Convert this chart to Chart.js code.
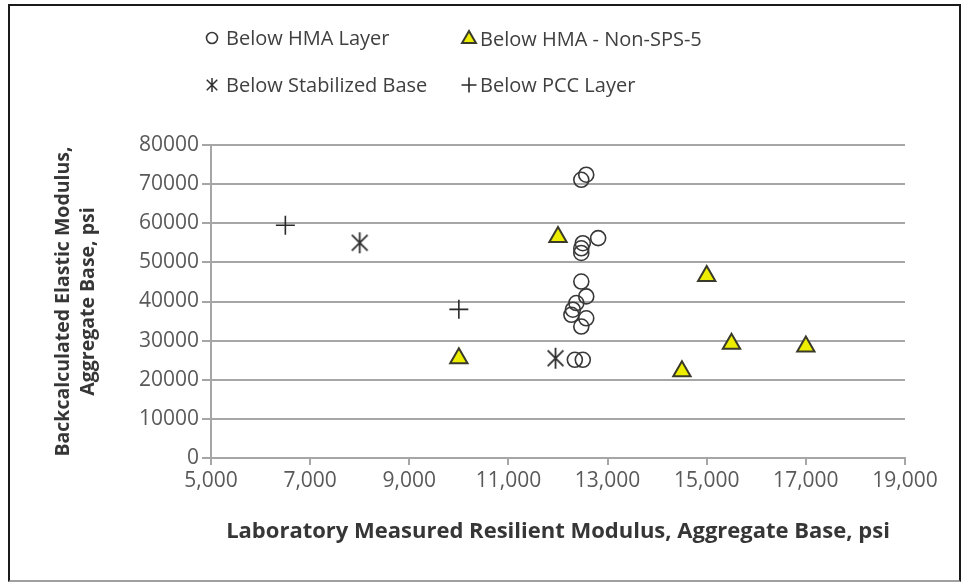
<!DOCTYPE html>
<html>
<head>
<meta charset="utf-8">
<script src="https://cdn.jsdelivr.net/npm/chart.js@4.4.1/dist/chart.umd.min.js"></script>
<style>
    html, body { margin: 0; padding: 0; background: #fff; }
    #wrap { position: relative; width: 963px; height: 583px; overflow: hidden; }
    #frame {
        position: absolute; left: 8px; top: 4px; width: 953px; height: 578px; box-sizing: border-box;
        border-left: 2px solid #1a1a1a; border-top: 2px solid #1a1a1a;
        border-right: 2px solid #1a1a1a; border-bottom: 2px solid #a0a0a0;
    }
    #chart { position: absolute; left: 0; top: 0; }
    .legend-item { position: absolute; font: 20px 'Open Sans', sans-serif; color: #404040; white-space: nowrap; line-height: 26px; }
    .legend-item canvas { position: absolute; }
</style>
</head>
<body>
<div id="wrap">
    <div id="frame"></div>
    <canvas id="chart" width="963" height="583"></canvas>
    <div id="legend"></div>
</div>
<script>
// Laboratory resilient modulus (x) vs backcalculated modulus (y), psi
const hmaX = [12470, 12570, 12810, 12500, 12470, 12470, 12470, 12570, 12370, 12300, 12270, 12570, 12470, 12340, 12500];
const hmaY = [71100, 72400, 56200, 54900, 53600, 52400, 45100, 41300, 39600, 37900, 36600, 35700, 33600, 25100, 25100];

const nonSpsX = [12000, 10000, 15000, 14500, 15500, 17000];
const nonSpsY = [56500, 25500, 46500, 22200, 29200, 28500];

const stabX = [8000, 11950];
const stabY = [55000, 25500];

const pccX = [6500, 10000];
const pccY = [59500, 38000];

const xTicks = [5000, 19000, 2000];
const yTicks = [0, 80000, 10000];

const ink = '#383838';
const grid = '#a6a6a6';
const tickColor = '#595959';
const yellow = '#eded00';

function pairs(xs, ys) {
    return xs.map((x, i) => ({ x, y: ys[i] }));
}

function asterisk(r, color, width) {
    const size = Math.ceil(r * 2 + 4);
    const c = document.createElement('canvas');
    c.width = size;
    c.height = size;
    const ctx = c.getContext('2d');
    const m = size / 2;
    const d = r * 0.75;
    ctx.strokeStyle = color;
    ctx.lineWidth = width;
    ctx.beginPath();
    ctx.moveTo(m, m - r);
    ctx.lineTo(m, m + r);
    ctx.moveTo(m - d, m - d);
    ctx.lineTo(m + d, m + d);
    ctx.moveTo(m + d, m - d);
    ctx.lineTo(m - d, m + d);
    ctx.stroke();
    return c;
}

const datasets = [
    {
        label: 'Below HMA Layer',
        data: pairs(hmaX, hmaY),
        pointStyle: 'circle',
        pointRadius: 7.5,
        borderColor: ink,
        backgroundColor: 'rgba(0,0,0,0)',
        pointBorderWidth: 1.6,
        legend: { x: 212, y: 38, textX: 226, radius: 5.5 }
    },
    {
        label: 'Below HMA - Non-SPS-5',
        data: pairs(nonSpsX, nonSpsY),
        pointStyle: 'triangle',
        pointRadius: 10,
        borderColor: '#3a3a2a',
        backgroundColor: yellow,
        pointBorderWidth: 2,
        legend: { x: 469, y: 39, textX: 480, radius: 8 }
    },
    {
        label: 'Below Stabilized Base',
        data: pairs(stabX, stabY),
        pointStyle: asterisk(10.5, '#303030', 1.8),
        borderColor: ink,
        backgroundColor: ink,
        legend: { x: 212, y: 85, textX: 226, image: asterisk(7, '#303030', 1.5) }
    },
    {
        label: 'Below PCC Layer',
        data: pairs(pccX, pccY),
        pointStyle: 'cross',
        pointRadius: 9.5,
        borderColor: '#2a2a2a',
        backgroundColor: '#2a2a2a',
        pointBorderWidth: 1.6,
        legend: { x: 469, y: 85, textX: 480, radius: 7.5 }
    }
];

const chart = new Chart(document.getElementById('chart'), {
    type: 'scatter',
    data: { datasets },
    options: {
        responsive: false,
        animation: false,
        layout: { padding: { left: 38, top: 145, right: 58, bottom: 30 } },
        plugins: {
            legend: { display: false },
            tooltip: { enabled: false }
        },
        scales: {
            x: {
                type: 'linear',
                min: xTicks[0],
                max: xTicks[1],
                afterFit: (scale) => { scale.height = 95; },
                ticks: {
                    stepSize: xTicks[2],
                    color: tickColor,
                    padding: 3,
                    font: { family: 'Open Sans', size: 21 },
                    callback: (v) => Number(v).toLocaleString('en-US')
                },
                grid: { drawOnChartArea: false, drawTicks: true, tickLength: 7, color: grid, lineWidth: 2 },
                border: { display: true, color: grid, width: 2 },
                title: {
                    display: true,
                    text: 'Laboratory Measured Resilient Modulus, Aggregate Base, psi',
                    color: '#363636',
                    font: { family: 'Open Sans', size: 22, weight: 'bold', lineHeight: 1.3 },
                    padding: { top: 0, bottom: 6.7 }
                }
            },
            y: {
                type: 'linear',
                min: yTicks[0],
                max: yTicks[1],
                afterFit: (scale) => { scale.width = 173; },
                ticks: {
                    stepSize: yTicks[2],
                    color: tickColor,
                    padding: 3,
                    font: { family: 'Open Sans', size: 21 },
                    callback: (v) => String(v)
                },
                grid: { color: grid, lineWidth: 2, tickLength: 9 },
                border: { display: true, color: grid, width: 2 },
                title: {
                    display: true,
                    text: ['Backcalculated Elastic Modulus,', 'Aggregate Base, psi'],
                    color: '#363636',
                    font: { family: 'Open Sans', size: 19.5, weight: 'bold', lineHeight: 1.3 },
                    padding: { top: 12.3, bottom: 0 }
                }
            }
        }
    }
});

// HTML legend laid out in two columns like the original
const legendBox = document.getElementById('legend');
datasets.forEach((ds) => {
    const pos = ds.legend;
    const item = document.createElement('div');
    item.className = 'legend-item';
    item.style.left = pos.textX + 'px';
    item.style.top = (pos.y - 13) + 'px';
    item.textContent = ds.label;

    const mark = document.createElement('canvas');
    mark.width = 24;
    mark.height = 24;
    mark.style.left = (pos.x - 12 - pos.textX) + 'px';
    mark.style.top = '1px';
    const ctx = mark.getContext('2d');
    ctx.strokeStyle = ds.borderColor;
    ctx.fillStyle = ds.backgroundColor;
    ctx.lineWidth = ds.pointBorderWidth || 1.3;
    Chart.helpers.drawPoint(ctx, {
        pointStyle: pos.image || ds.pointStyle,
        radius: pos.radius || 6,
        borderWidth: ds.pointBorderWidth || 1.3,
        rotation: 0
    }, 12, 12);
    item.appendChild(mark);
    legendBox.appendChild(item);
});
</script>
</body>
</html>
